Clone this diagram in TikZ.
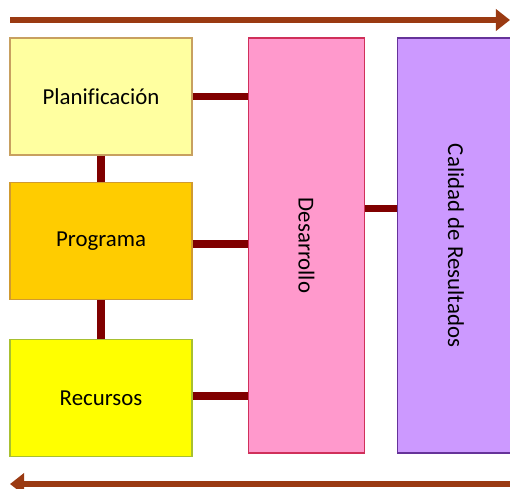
\documentclass[tikz,border=0pt]{standalone}
\usepackage{fontspec}
\setmainfont[Ligatures={NoCommon}]{Carlito}
\usepackage{tikz}
\usetikzlibrary{calc,arrows.meta}
\definecolor{planfill}{HTML}{FFFFA0}
\definecolor{planline}{HTML}{C8A060}
\definecolor{progfill}{HTML}{FFCC00}
\definecolor{progline}{HTML}{D09A30}
\definecolor{recfill}{HTML}{FFFF00}
\definecolor{recline}{HTML}{A8C030}
\definecolor{desfill}{HTML}{FF99CC}
\definecolor{desline}{HTML}{D0305A}
\definecolor{calfill}{HTML}{CC99FF}
\definecolor{calline}{HTML}{663399}
\definecolor{linkred}{HTML}{800000}
\definecolor{flow}{HTML}{9A3A12}
\tikzset{
  basic/.style  = {draw, line width=0.8pt, rectangle, align=center,
                   font=\fontsize{13}{15}\selectfont, inner sep=0pt},
  stage/.style  = {basic, minimum width=3.64cm, minimum height=2.34cm},
  column/.style = {basic, minimum width=2.33cm, minimum height=8.3cm},
  link/.style   = {-, line width=4.5pt, linkred},
  flowarrow/.style = {-{Triangle[length=8pt,width=12pt]}, line width=3.6pt, flow}
}
\begin{document}
\begin{tikzpicture}[x=0.02cm,y=-0.02cm]
  \clip (0,0) rectangle (510,488);
  \fill[white] (0,0) rectangle (510,488);
  % boxes on the left
  \node[stage, fill=planfill, draw=planline] (Planif)   at (101,96.5) {Planificación};
  \node[stage, fill=progfill, draw=progline] (Programa) at (101,241)  {Programa};
  \node[stage, fill=recfill, draw=recline]   (Recursos) at (101,398)  {Recursos};
  % columns
  \node[column, fill=desfill, draw=desline] (Desarrollo) at (306.5,245.5) {};
  \node[rotate=-90, font=\fontsize{13}{15}\selectfont] (DesText) at (Desarrollo.center) {Desarrollo};
  \node[column, fill=calfill, draw=calline] (Calidad) at (456,245.5) {};
  \node[rotate=-90, font=\fontsize{13}{15}\selectfont] (CalText) at (Calidad.center) {Calidad de Resultados};
  % links
  \draw[link] (Planif.south) -- (Programa.north);
  \draw[link] (Programa.south) -- (Recursos.north);
  \draw[link] (Planif.east) -- (Planif.east -| Desarrollo.west);
  \draw[link] ($(Programa.east)+(0,3)$) -- ($(Programa.east -| Desarrollo.west)+(0,3)$);
  \draw[link] ($(Recursos.east)+(0,-2)$) -- ($(Recursos.east -| Desarrollo.west)+(0,-2)$);
  \draw[link] ($(Desarrollo.east)+(0,-37)$) -- ($(Calidad.west)+(0,-37)$);
  % flow arrows
  \coordinate (topL) at (10,20);
  \coordinate (topR) at (510,20);
  \coordinate (botR) at (512,484);
  \coordinate (botL) at (10,484);
  \draw[flowarrow] (topL) -- (topR);
  \draw[flowarrow] (botR) -- (botL);
\end{tikzpicture}
\end{document}
